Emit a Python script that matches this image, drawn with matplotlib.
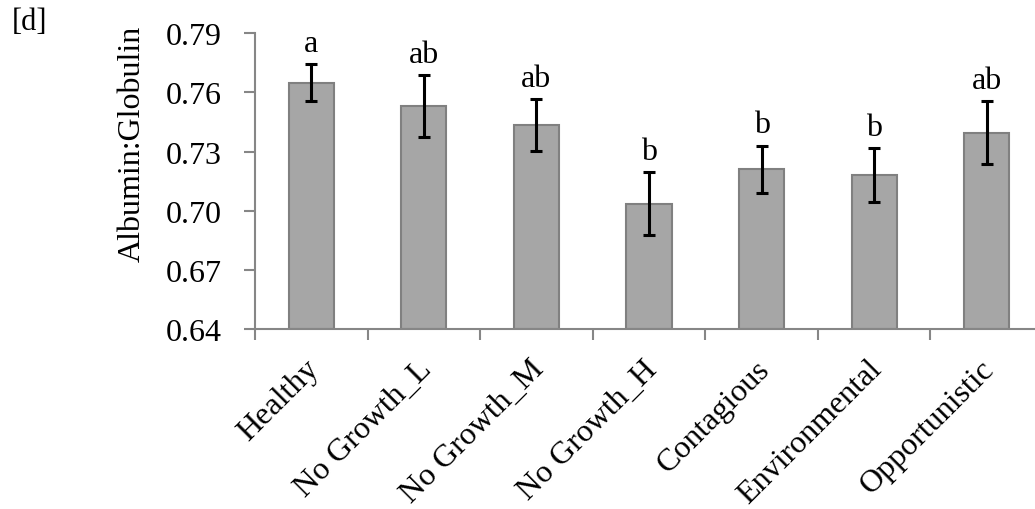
import matplotlib
matplotlib.use("Agg")
import matplotlib.pyplot as plt
import numpy as np

categories = ["Healthy", "No Growth_L", "No Growth_M", "No Growth_H",
              "Contagious", "Environmental", "Opportunistic"]
means = [0.765, 0.753, 0.7435, 0.7035, 0.721, 0.718, 0.7395]
errors = [0.0094, 0.0157, 0.013, 0.016, 0.012, 0.0136, 0.016]
letters = ["a", "ab", "ab", "b", "b", "b", "ab"]
yticks = [0.64, 0.67, 0.70, 0.73, 0.76, 0.79]

plt.rcParams["font.family"] = ["Liberation Serif", "DejaVu Serif"]
FS = 23

fig = plt.figure(figsize=(10.35, 5.10), dpi=100)
ax = fig.add_axes([255 / 1035, 180 / 510, 788 / 1035, 295.7 / 510])

x = np.arange(len(categories))
axis_gray = "#868686"
ax.bar(x, [m - yticks[0] for m in means], bottom=yticks[0], width=0.4,
       color="#a6a6a6", edgecolor="#808080", linewidth=1.5, zorder=2)
ax.errorbar(x, means, yerr=errors, fmt="none", ecolor="black",
            elinewidth=2.2, capsize=4, capthick=2.2, zorder=3)

for xi, m, e, lab in zip(x, means, errors, letters):
    ax.annotate(lab, (xi, m + e), xytext=(0, 9.5), textcoords="offset points",
                ha="center", va="baseline", fontsize=FS)

ax.set_xlim(-0.5, len(categories) - 0.5)
ax.set_ylim(yticks[0], yticks[-1])
ax.set_yticks(yticks)
ax.set_yticklabels([f"{t:.2f}" for t in yticks], fontsize=FS)
ax.set_ylabel("Albumin:Globulin", fontsize=FS)
ax.yaxis.set_label_coords(-0.137, 0.629)

# category names sit just left of each bar centre, rotated 45 degrees
ax.set_xticks(x - 0.06)
ax.set_xticklabels(categories, rotation=45, ha="right", rotation_mode="anchor",
                   fontsize=FS)
ax.set_xticks(np.arange(len(categories) + 1) - 0.5, minor=True)
ax.tick_params(axis="x", which="major", length=0, pad=18)
ax.tick_params(axis="x", which="minor", length=8, width=1.5, color=axis_gray,
               direction="out")
ax.tick_params(axis="y", length=8, width=1.5, color=axis_gray, pad=16)

for side in ("top", "right"):
    ax.spines[side].set_visible(False)
for side in ("left", "bottom"):
    ax.spines[side].set_color(axis_gray)
    ax.spines[side].set_linewidth(1.5)

fig.text(12 / 1035, 1 - 30 / 510, "[d]", fontsize=22, va="baseline")

fig.savefig("out.png", dpi=100)
